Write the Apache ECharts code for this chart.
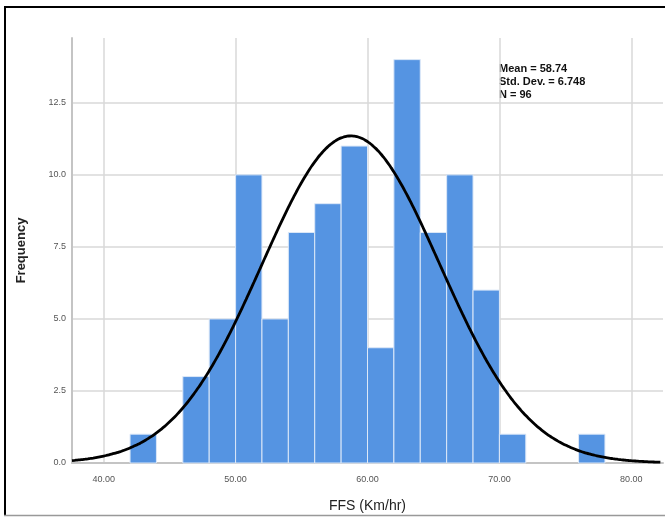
<!DOCTYPE html>
<html>
<head>
<meta charset="utf-8">
<script src="https://cdn.jsdelivr.net/npm/echarts@6/dist/echarts.min.js"></script>
<style>
  html, body { margin: 0; padding: 0; background: #fff; }
  #chart { width: 665px; height: 518px; }
</style>
</head>
<body>
<div id="chart"></div>
<script>
// histogram bins (lower edge, width 2)
const binStarts = [42, 44, 46, 48, 50, 52, 54, 56, 58, 60, 62, 64, 66, 68, 70, 72, 74, 76];
const binCounts = [1, 0, 3, 5, 10, 5, 8, 9, 11, 4, 14, 8, 10, 6, 1, 0, 0, 1];
const binWidth = 2;

// summary stats shown in the chart
const statMean = 58.74;
const statSD = 6.748;
const statN = 96;

const xTicks = [40, 50, 60, 70, 80];
const yTicks = [0, 2.5, 5, 7.5, 10, 12.5];

const chart = echarts.init(document.getElementById('chart'));

// fitted normal curve, scaled to counts
function normalCurve() {
  const pts = [];
  for (let x = 37.6; x <= 82.4; x += 0.2) {
    const z = (x - statMean) / statSD;
    const y = statN * binWidth * Math.exp(-0.5 * z * z) / (statSD * Math.sqrt(2 * Math.PI));
    pts.push([x, y]);
  }
  return pts;
}

const barData = binStarts.map(function (s, i) { return [s, binCounts[i]]; });

chart.setOption({
  animation: false,
  grid: { left: 72, top: 38, right: 2, bottom: 54 },
  xAxis: {
    type: 'value',
    min: 37.6,
    max: 82.4,
    name: 'FFS (Km/hr)',
    nameLocation: 'middle',
    nameGap: 36,
    nameTextStyle: { fontFamily: 'Liberation Sans', fontSize: 14, color: '#222' },
    axisLine: { show: true, onZero: false, lineStyle: { color: '#c4c4c4', width: 2 } },
    axisTick: { show: false, customValues: xTicks },
    axisLabel: {
      customValues: xTicks,
      fontFamily: 'Liberation Sans', fontSize: 9, color: '#555', margin: 12,
      formatter: function (v) { return v.toFixed(2); }
    },
    splitLine: { show: true, lineStyle: { color: '#d8d8d8', width: 1.5 } }
  },
  yAxis: {
    type: 'value',
    min: 0,
    max: 14.75,
    name: 'Frequency',
    nameLocation: 'middle',
    nameGap: 44,
    nameTextStyle: { fontFamily: 'Liberation Sans', fontSize: 13, fontWeight: 'bold', color: '#222' },
    axisLine: { show: true, lineStyle: { color: '#c4c4c4', width: 2 } },
    axisTick: { show: false, customValues: yTicks },
    axisLabel: {
      customValues: yTicks,
      fontFamily: 'Liberation Sans', fontSize: 9, color: '#555', margin: 6,
      formatter: function (v) { return v.toFixed(1); }
    },
    splitLine: { show: true, lineStyle: { color: '#d8d8d8', width: 1.5 } }
  },
  series: [
    {
      type: 'custom',
      data: barData,
      z: 2,
      renderItem: function (params, api) {
        const x0 = api.value(0);
        const c = api.value(1);
        if (!c) return null;
        const p1 = api.coord([x0, c]);
        const p2 = api.coord([x0 + binWidth, 0]);
        return {
          type: 'rect',
          shape: { x: p1[0], y: p1[1], width: p2[0] - p1[0], height: p2[1] - p1[1] },
          style: { fill: '#5594e2', stroke: '#dce8f8', lineWidth: 1 }
        };
      }
    },
    {
      type: 'line',
      data: normalCurve(),
      showSymbol: false,
      smooth: true,
      z: 3,
      lineStyle: { color: '#000', width: 2.8 }
    }
  ],
  graphic: [
    {
      type: 'text', left: 499, top: 62,
      style: {
        text: 'Mean = ' + statMean + '\nStd. Dev. = ' + statSD + '\nN = ' + statN,
        font: 'bold 11px "Liberation Sans"', fill: '#111', lineHeight: 13
      }
    },
    { type: 'line', shape: { x1: 4, y1: 7, x2: 665, y2: 7 }, style: { stroke: '#000', lineWidth: 2 } },
    { type: 'line', shape: { x1: 5, y1: 6, x2: 5, y2: 516 }, style: { stroke: '#000', lineWidth: 2 } },
    { type: 'line', shape: { x1: 4, y1: 515.5, x2: 665, y2: 515.5 }, style: { stroke: '#999', lineWidth: 1.5 } }
  ]
});
</script>
</body>
</html>
